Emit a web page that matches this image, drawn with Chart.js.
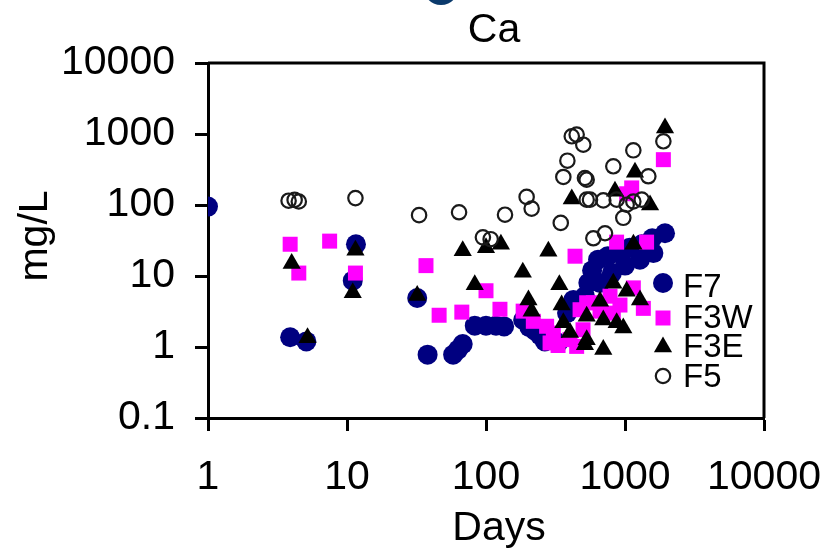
<!DOCTYPE html>
<html>
<head>
<meta charset="utf-8">
<title>Ca</title>
<script src="https://cdn.jsdelivr.net/npm/chart.js@4.4.1/dist/chart.umd.min.js"></script>
<style>
  html, body { margin: 0; padding: 0; background: #fff; }
  #wrap { width: 825px; height: 548px; }
</style>
</head>
<body>
<div id="wrap"><canvas id="caChart" width="825" height="548"></canvas></div>
<script>
// Ca concentration (mg/L) against time (days), four cells
var f7Days = [1, 3.9, 5.1, 11, 11.6, 32, 38, 58, 63, 68, 83, 100, 118, 135, 185, 205, 225, 245, 265, 330,
              383, 425, 437, 515, 545, 580, 640, 750, 880, 1080, 1320, 1570, 661, 805, 1000, 1280, 1600, 1940];
var f7Ca   = [95, 1.37, 1.2, 8.6, 28, 4.9, 0.78, 0.78, 0.92, 1.1, 2.0, 2.0, 2.0, 1.95, 2.4, 1.9, 1.7, 1.45, 1.2, 1.15,
              3.0, 4.6, 4.2, 5.2, 8, 12, 17, 19, 21, 25, 28, 34, 8, 11, 14, 17, 21, 40];

var f3wDays = [3.9, 4.5, 7.5, 11.5, 37, 46, 67, 100, 126, 185, 219, 273, 305, 289, 330, 402, 449, 437, 475, 499,
               530, 592, 661, 780, 824, 870, 920, 1028, 1117, 1148, 1355, 1430, 1888];
var f3wCa   = [28, 11, 31, 11, 14, 2.8, 3.1, 6.2, 3.4, 3.2, 2.3, 1.96, 1.57, 1.14, 1.05, 1.27, 1.02, 19, 3.35, 1.75,
               4.2, 4.2, 3.2, 5.2, 3.0, 30, 3.9, 144, 174, 6.8, 3.5, 30, 435];

var f3eDays = [4.0, 5.2, 11.5, 11, 32, 68, 83, 100, 128, 184, 202, 213, 281, 337, 350, 360, 402, 414, 515, 530,
               530, 661, 698, 698, 824, 847, 871, 972, 1028, 1150, 1180, 1282, 1514, 1940];
var f3eCa   = [15, 1.35, 23, 5.8, 5.3, 22.7, 7.5, 25, 28, 11.3, 4.6, 3.2, 22.3, 7.5, 3.9, 2.2, 1.6, 121, 1.08, 2.7,
               1.27, 4.4, 2.4, 0.92, 7.9, 156, 2.2, 1.85, 6.1, 28, 289, 4.6, 100, 1216];

var f5Days = [3.8, 4.2, 4.5, 11.5, 33, 64, 95, 108, 137, 196, 213, 345, 360, 385, 414, 449, 501, 515, 530, 530,
              560, 592, 718, 698, 824, 871, 972, 1028, 1148, 1148, 1320, 1472, 1888];
var f5Ca   = [115, 118, 112, 125, 72, 79, 35, 33, 73, 130, 89, 56, 248, 421, 928, 980, 707, 240, 119, 227,
              119, 34, 40, 116, 351, 119, 66, 101, 589, 112, 119, 254, 789];

var seriesNames = ['F7', 'F3W', 'F3E', 'F5'];
var xTicks = [1, 10, 100, 1000, 10000];
var yTicks = [0.1, 1, 10, 100, 1000, 10000];

var FONT = "'Liberation Sans', Arial, sans-serif";

function toPoints(days, vals) {
  var out = [];
  for (var i = 0; i < days.length; i++) out.push({x: days[i], y: vals[i]});
  return out;
}

// frame on top/right, titles, legend drawn inside the plot
var decorPlugin = {
  id: 'decor',
  beforeDraw: function(chart) {
    var ctx = chart.ctx;
    ctx.save();
    ctx.fillStyle = '#0b3a6c';
    ctx.beginPath();
    ctx.ellipse(441, -16, 19, 21, 0, 0, Math.PI * 2);
    ctx.fill();
    ctx.restore();
  },
  afterDraw: function(chart) {
    var ctx = chart.ctx, a = chart.chartArea;
    ctx.save();
    ctx.strokeStyle = '#000';
    ctx.lineWidth = 3;
    ctx.beginPath();
    ctx.moveTo(a.left, a.top);
    ctx.lineTo(a.right, a.top);
    ctx.lineTo(a.right, a.bottom);
    ctx.stroke();

    ctx.fillStyle = '#000';
    ctx.font = '41px ' + FONT;
    ctx.textAlign = 'center';
    ctx.textBaseline = 'alphabetic';
    ctx.fillText('Ca', 494, 42);
    ctx.fillText('Days', 499, 540);
    ctx.save();
    ctx.translate(47, 236);
    ctx.rotate(-Math.PI / 2);
    ctx.fillText('mg/L', 0, 0);
    ctx.restore();

    var rowY = [283, 318, 347, 376];
    var textY = [297, 328, 357, 387];
    ctx.font = '33px ' + FONT;
    ctx.textAlign = 'left';
    chart.data.datasets.forEach(function(ds, i) {
      ctx.fillStyle = ds.backgroundColor;
      ctx.strokeStyle = ds.borderColor;
      ctx.lineWidth = ds.borderWidth;
      Chart.helpers.drawPoint(ctx, {
        pointStyle: ds.pointStyle,
        radius: ds.pointRadius,
        borderWidth: ds.borderWidth,
        rotation: 0
      }, 663, rowY[i]);
      ctx.fillStyle = '#000';
      ctx.fillText(seriesNames[i], 683, textY[i]);
    });
    ctx.restore();
  }
};

var ctx = document.getElementById('caChart');
var caChart = new Chart(ctx, {
  type: 'scatter',
  data: {
    datasets: [
      {
        label: seriesNames[0],
        data: toPoints(f7Days, f7Ca),
        pointStyle: 'circle',
        pointRadius: 10,
        backgroundColor: '#000080',
        borderColor: '#000080',
        borderWidth: 0,
        order: 4
      },
      {
        label: seriesNames[1],
        data: toPoints(f3wDays, f3wCa),
        pointStyle: 'rect',
        pointRadius: 10.6,
        backgroundColor: '#ff00ff',
        borderColor: '#ff00ff',
        borderWidth: 0,
        order: 3
      },
      {
        label: seriesNames[2],
        data: toPoints(f3eDays, f3eCa),
        pointStyle: 'triangle',
        pointRadius: 10.5,
        backgroundColor: '#000000',
        borderColor: '#000000',
        borderWidth: 0,
        order: 2
      },
      {
        label: seriesNames[3],
        data: toPoints(f5Days, f5Ca),
        pointStyle: 'circle',
        pointRadius: 7.2,
        backgroundColor: 'rgba(255,255,255,0)',
        borderColor: '#1a1a1a',
        borderWidth: 2.2,
        order: 1
      }
    ]
  },
  options: {
    responsive: false,
    animation: false,
    devicePixelRatio: 1,
    layout: { padding: { top: 63, right: 61, bottom: 0, left: 0 } },
    plugins: {
      legend: { display: false },
      tooltip: { enabled: false },
      title: { display: false }
    },
    scales: {
      x: {
        type: 'logarithmic',
        min: 1,
        max: 10000,
        afterBuildTicks: function(s) { s.ticks = xTicks.map(function(v) { return {value: v}; }); },
        afterFit: function(s) { s.height = 130; s.paddingLeft = 0; s.paddingRight = 0; },
        ticks: {
          color: '#000',
          font: { size: 41, family: FONT },
          padding: 22,
          maxRotation: 0,
          autoSkip: false,
          callback: function(v) { return String(v); }
        },
        grid: { drawOnChartArea: false, drawTicks: true, tickLength: 13, tickWidth: 3, tickColor: '#000' },
        border: { display: true, color: '#000', width: 3 }
      },
      y: {
        type: 'logarithmic',
        min: 0.1,
        max: 10000,
        afterBuildTicks: function(s) { s.ticks = yTicks.map(function(v) { return {value: v}; }); },
        afterFit: function(s) { s.width = 208; s.paddingTop = 0; s.paddingBottom = 0; },
        ticks: {
          color: '#000',
          font: { size: 41, family: FONT },
          padding: 20,
          autoSkip: false,
          callback: function(v) { return String(v); }
        },
        grid: { drawOnChartArea: false, drawTicks: true, tickLength: 13, tickWidth: 3, tickColor: '#000' },
        border: { display: true, color: '#000', width: 3 }
      }
    }
  },
  plugins: [decorPlugin]
});
</script>
</body>
</html>
